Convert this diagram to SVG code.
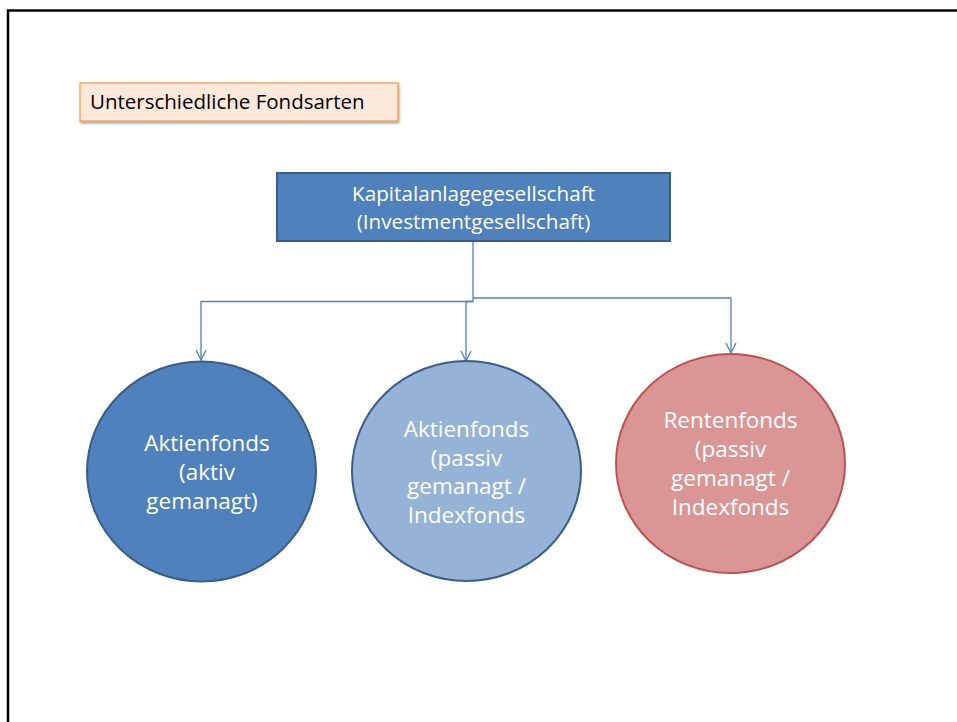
<svg xmlns="http://www.w3.org/2000/svg" width="957" height="722" viewBox="0 0 957 722">
<style>
.frame{fill:none;stroke:#000;stroke-width:2.5}
.wt{fill:#fff;font-family:"Open Sans","Liberation Sans",sans-serif;font-size:22.5px;text-anchor:middle}
.rt{font-size:20.7px}
.bt{fill:#000;font-family:"Open Sans","Liberation Sans",sans-serif;font-size:20.5px}
.conn{fill:none;stroke:#4F81BD;stroke-width:1.3}
</style>
<defs>
<marker id="arr" viewBox="0 0 12 12" refX="11" refY="6" markerWidth="12" markerHeight="12" markerUnits="userSpaceOnUse" orient="auto">
<path d="M1,1 L11,6 L1,11" fill="none" stroke="#4F81BD" stroke-width="1.3"/>
</marker>
<filter id="sh" x="-10%" y="-20%" width="120%" height="150%">
<feDropShadow dx="1" dy="2" stdDeviation="1.2" flood-color="#000" flood-opacity="0.35"/>
</filter>
</defs>
<rect width="957" height="722" fill="#fff"/>
<path class="frame" d="M8,722 V10.5 H957"/>
<g id="title">
<rect x="80" y="83" width="318" height="38" fill="#FDE9D9" stroke="#F79646" stroke-width="1.2" filter="url(#sh)"/>
<text class="bt" x="90" y="109">Unterschiedliche Fondsarten</text>
</g>
<g id="connectors">
<path class="conn" d="M473,241 V301.5 H201 V360" marker-end="url(#arr)"/>
<path class="conn" d="M473,298 H731 V353" marker-end="url(#arr)"/>
<path class="conn" d="M473,301.5 H466 V361" marker-end="url(#arr)"/>
</g>
<g id="kag">
<rect x="277" y="173" width="393" height="68" fill="#4F81BD" stroke="#385D8A" stroke-width="2"/>
<text class="wt rt" x="473.5" y="201">Kapitalanlagegesellschaft</text>
<text class="wt rt" x="473.5" y="229">(Investmentgesellschaft)</text>
</g>
<g id="aktiv">
<ellipse cx="201.5" cy="471.5" rx="114.5" ry="110" fill="#4F81BD" stroke="#385D8A" stroke-width="2"/>
<text class="wt" x="207" y="451">Aktienfonds</text>
<text class="wt" x="207" y="480">(aktiv</text>
<text class="wt" x="202" y="509">gemanagt)</text>
</g>
<g id="passiv">
<ellipse cx="466.5" cy="471" rx="114.5" ry="110" fill="#95B3D7" stroke="#385D8A" stroke-width="2"/>
<text class="wt" x="466.5" y="437">Aktienfonds</text>
<text class="wt" x="466.5" y="466">(passiv</text>
<text class="wt" x="466.5" y="494">gemanagt /</text>
<text class="wt" x="466.5" y="523">Indexfonds</text>
</g>
<g id="renten">
<ellipse cx="730.5" cy="463.5" rx="114.5" ry="109.5" fill="#D99694" stroke="#C0504D" stroke-width="2"/>
<text class="wt" x="730.5" y="428">Rentenfonds</text>
<text class="wt" x="730.5" y="457">(passiv</text>
<text class="wt" x="730.5" y="486">gemanagt /</text>
<text class="wt" x="730.5" y="515">Indexfonds</text>
</g>
</svg>
